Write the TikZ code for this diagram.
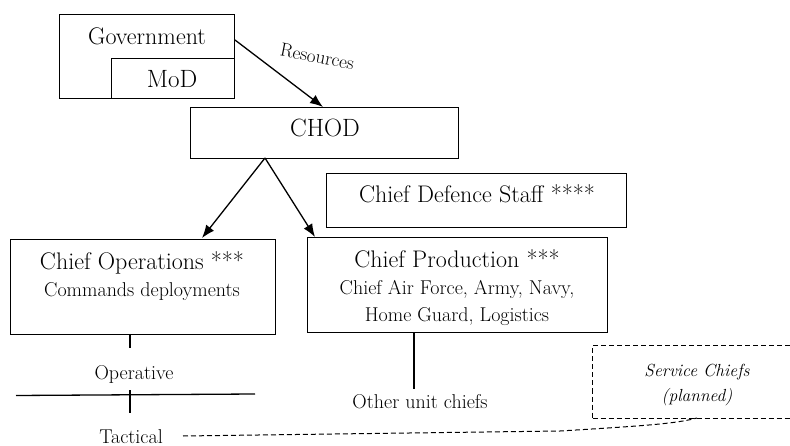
\documentclass[tikz,border=0pt]{standalone}
\usepackage{fontspec}
\usetikzlibrary{arrows.meta}
\begin{document}
\begin{tikzpicture}[x=1pt,y=-1pt,
  box/.style={draw=black,line width=1.2pt,inner sep=0pt,anchor=north west},
  big/.style={font=\fontsize{24}{28}\selectfont,anchor=base,inner sep=0pt},
  small/.style={font=\fontsize{20}{24}\selectfont,anchor=base,inner sep=0pt},
  note/.style={font=\fontsize{17.5}{20}\selectfont\itshape,anchor=base,inner sep=0pt},
  link/.style={line width=1.3pt,draw=black},
  arr/.style={link,-{Latex[length=13pt,width=10pt]}},
  dsh/.style={line width=1pt,dash pattern=on 5pt off 3pt,draw=black}]
\clip (0,0) rectangle (790,446);
\useasboundingbox (0,0) rectangle (790,446);

% Government with the ministry inset
\node[box,minimum width=175pt,minimum height=84pt] (gov) at (59,14) {};
\node[box,fill=white,minimum width=123pt,minimum height=40pt] (mod) at (111,58) {};
\node[big] (govtext) at (147,45) {Government};
\node[big,font=\fontsize{25}{28}\selectfont] (modtext) at (172,88) {MoD};

% CHOD and staff
\node[box,minimum width=268pt,minimum height=51pt] (chod) at (190,107) {};
\node[big,font=\fontsize{25}{28}\selectfont] (chodtext) at (325,137) {CHOD};
\node[box,minimum width=300pt,minimum height=54pt] (cds) at (326,173) {};
\node[big] (cdstext) at (477,203) {Chief Defence Staff ****};

% Operations and production
\node[box,minimum width=265pt,minimum height=95pt] (ops) at (10,239) {};
\node[big] (opstext) at (142,270) {Chief Operations ***};
\node[small] (opssub) at (142,297) {Commands deployments};
\node[box,minimum width=300pt,minimum height=95pt] (prod) at (307,237) {};
\node[big] (prodtext) at (457,268) {Chief Production ***};
\node[small] (prodsub1) at (457,295) {Chief Air Force, Army, Navy,};
\node[small] (prodsub2) at (457,322) {Home Guard, Logistics};

% Resource flow and command arrows
\coordinate (govout) at (235,40);
\coordinate (chodin) at (323,107);
\draw[arr] (govout) -- (chodin);
\node[small,font=\fontsize{19}{22}\selectfont,rotate=-11] (res) at (316,63) {Resources};
\coordinate (split) at (265,158);
\coordinate (opsin) at (202,238);
\coordinate (prodin) at (315,237);
\draw[arr] (split) -- (opsin);
\draw[arr] (split) -- (prodin);

% Levels below operations
\coordinate (opsdrop) at (130,348);
\draw[link] (130,334) -- (opsdrop);
\node[small] (operative) at (134,380) {Operative};
\coordinate (lvlL) at (16,395.5);
\coordinate (lvlR) at (255,394);
\draw[link] (lvlL) -- (lvlR);
\coordinate (crossT) at (130,390);
\coordinate (crossB) at (130,413);
\draw[link] (crossT) -- (crossB);
\node[small] (tactical) at (131,443) {Tactical};

% Production line to other unit chiefs
\coordinate (proddrop) at (414,389);
\draw[link] (414,333) -- (proddrop);
\node[small] (others) at (420,408) {Other unit chiefs};

% Planned service chiefs
\node[box,dsh,minimum width=210pt,minimum height=73pt] (svc) at (592,345) {};
\node[note] (svc1) at (697,376) {Service Chiefs};
\node[note] (svc2) at (697,401) {(planned)};
\coordinate (tacR) at (183,436);
\coordinate (svcB) at (697,418);
\draw[dsh] (tacR) -- (560,431) .. controls (640,426) and (675,424) .. (svcB);
\end{tikzpicture}
\end{document}
